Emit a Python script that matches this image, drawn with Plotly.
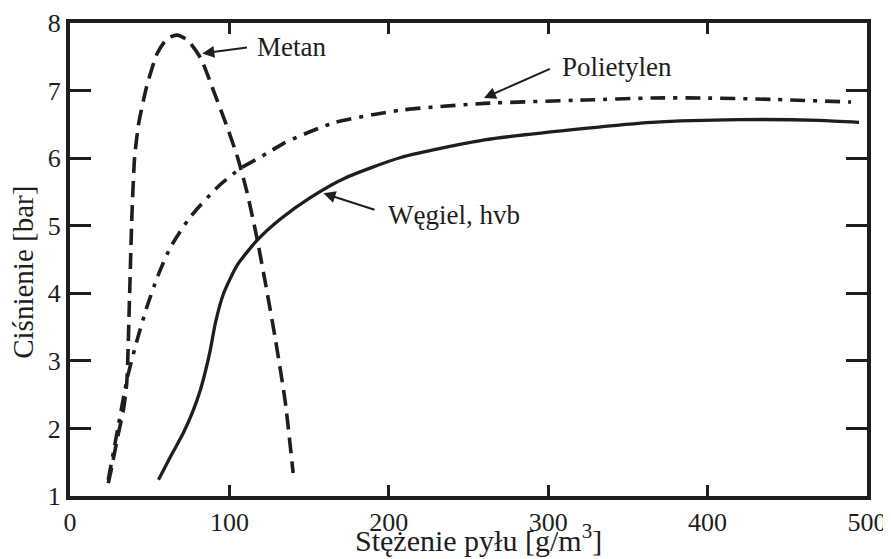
import plotly.graph_objects as go

# Data
metan_x = [24, 25.5, 30.4, 33.5, 35.6, 37.3, 38.8, 40.5, 43, 48, 54.7, 61, 67, 73.6, 82, 90, 98, 105, 111, 117, 123, 129, 135, 140]
metan_y = [1.19, 1.35, 1.93, 2.27, 2.67, 3.9, 5.12, 6.0, 6.5, 7.05, 7.55, 7.77, 7.82, 7.75, 7.48, 7.0, 6.5, 6.02, 5.5, 4.85, 4.1, 3.3, 2.4, 1.34]

poly_x = [24, 30, 36, 42, 48, 55, 63, 75.5, 92.5, 107, 113, 127, 134, 165, 207.5, 260, 323, 365, 396, 440, 490]
poly_y = [1.24, 2.0, 2.75, 3.3, 3.78, 4.25, 4.68, 5.13, 5.57, 5.85, 5.93, 6.12, 6.22, 6.52, 6.71, 6.81, 6.86, 6.89, 6.89, 6.87, 6.83]

wegiel_x = [55.5, 63, 71, 77, 81.8, 85, 88, 91.2, 96.4, 105, 117.6, 132, 151, 172, 207.5, 260, 323, 365, 420, 470, 495]
wegiel_y = [1.24, 1.58, 1.93, 2.25, 2.57, 2.85, 3.16, 3.56, 4.0, 4.42, 4.79, 5.1, 5.42, 5.7, 6.01, 6.27, 6.44, 6.53, 6.57, 6.56, 6.53]

x_ticks = [0, 100, 200, 300, 400, 500]
y_ticks = [1, 2, 3, 4, 5, 6, 7, 8]

labels = [
    # text, tip_x, tip_y, tail_x, tail_y, text_x, text_y
    ("Metan", 83, 7.55, 112, 7.64, 115.8, 7.64),
    ("Polietylen", 259.7, 6.89, 302, 7.33, 307.5, 7.35),
    ("Węgiel, hvb", 159, 5.48, 192, 5.23, 198, 5.16),
]

INK = "#1e1e1e"
FONT = "Times New Roman, Liberation Serif, DejaVu Serif, serif"

fig = go.Figure()
fig.add_trace(go.Scatter(x=metan_x, y=metan_y, mode="lines", line=dict(color=INK, width=3.6, dash="16px,8px", shape="spline", smoothing=0.6), showlegend=False))
fig.add_trace(go.Scatter(x=poly_x, y=poly_y, mode="lines", line=dict(color=INK, width=3.6, dash="15px,8px,4px,8px", shape="spline", smoothing=0.6), showlegend=False))
fig.add_trace(go.Scatter(x=wegiel_x, y=wegiel_y, mode="lines", line=dict(color=INK, width=3.3, shape="spline", smoothing=0.6), showlegend=False))

for text, tx, ty, ax, ay, lx, ly in labels:
    fig.add_annotation(x=tx, y=ty, ax=ax, ay=ay, axref="x", ayref="y", xref="x", yref="y",
                       text="", showarrow=True, arrowhead=2, arrowsize=1.2, arrowwidth=2, arrowcolor=INK)
    fig.add_annotation(x=lx, y=ly, xref="x", yref="y", text=text, showarrow=False,
                       xanchor="left", yanchor="middle", font=dict(family=FONT, size=27, color=INK))

# Axis titles
fig.add_annotation(x=0.513, y=-0.133, xref="paper", yref="paper", text="Stężenie pyłu [g/m<sup>3</sup>]",
                   showarrow=False, xanchor="center", yanchor="bottom", font=dict(family=FONT, size=30, color=INK))
fig.add_annotation(x=-0.059, y=0.474, xref="paper", yref="paper", text="Ciśnienie [bar]", textangle=-90,
                   showarrow=False, xanchor="center", yanchor="middle", font=dict(family=FONT, size=29, color=INK))

# the page body has an 8px default margin; the figure is sized so the plot lands where the reference has it
fig.update_layout(
    width=883, height=551,
    margin=dict(l=62, r=24, t=15, b=63),
    plot_bgcolor="white", paper_bgcolor="white",
    font=dict(family=FONT, size=26, color=INK),
    xaxis=dict(range=[0, 500], tickvals=x_ticks, ticks="inside", ticklen=11, tickwidth=3, tickcolor=INK,
               showline=True, linewidth=4, linecolor=INK, mirror="ticks", showgrid=False, zeroline=False,
               tickfont=dict(family=FONT, size=26), automargin=False, ticklabeloverflow="allow"),
    yaxis=dict(range=[1, 8], tickvals=y_ticks, ticks="inside", ticklen=21, tickwidth=3, tickcolor=INK,
               showline=True, linewidth=4, linecolor=INK, mirror="ticks", showgrid=False, zeroline=False,
               tickfont=dict(family=FONT, size=26), automargin=False, ticklabeloverflow="allow"),
)

fig.write_html("out.html")
